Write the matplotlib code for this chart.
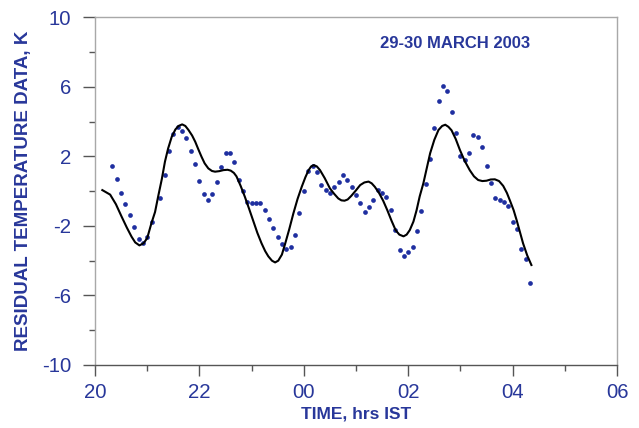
import numpy as np
import matplotlib
matplotlib.use("Agg")
import matplotlib.pyplot as plt
from matplotlib.ticker import MultipleLocator, FixedLocator

# observed residual temperature, one sample every 5 min from 20:20 IST
obs_start = 20 + 20 / 60
obs_step = 5 / 60
obs_values = [
    1.46, 0.70, -0.13, -0.72, -1.38, -2.08, -2.74, -3.00, -2.62, -1.80,
    np.nan, -0.41, 0.94, 2.32, 3.30, 3.70, 3.46, 3.04, 2.32, 1.54,
    0.60, -0.18, -0.51, -0.18, 0.54, 1.37, 2.17, 2.21, 1.67, 0.64,
    0.02, -0.65, -0.70, -0.70, -0.67, -1.09, -1.62, -2.14, -2.66, -3.03,
    -3.35, -3.23, -2.51, -1.24, 0.00, 1.14, 1.44, 1.10, 0.33, 0.05,
    -0.11, 0.24, 0.54, 0.94, 0.64, 0.25, -0.24, -0.70, -1.20, -0.93,
    -0.51, 0.06, -0.13, -0.32, -1.10, -2.24, -3.37, -3.72, -3.50, -3.20,
    -2.28, -1.16, 0.41, 1.83, 3.61, 5.18, 6.05, 5.78, 4.55, 3.36,
    2.02, 1.79, 2.21, 3.21, 3.11, 2.54, 1.44, 0.49, -0.40, -0.51,
    -0.63, -0.84, -1.80, -2.20, -3.33, -3.93, -5.27,
]

# fitted curve (hours, K)
fit_t = [20.14, 20.29, 20.40, 20.51, 20.61, 20.70, 20.77, 20.85, 20.93, 21.00,
         21.08, 21.15, 21.21, 21.28, 21.34, 21.40, 21.47, 21.54, 21.60, 21.67,
         21.73, 21.79, 21.86, 21.92, 21.98, 22.04, 22.10, 22.17, 22.24, 22.30,
         22.38, 22.46, 22.54, 22.60, 22.66, 22.71, 22.79, 22.87, 22.95, 23.03,
         23.11, 23.19, 23.26, 23.32, 23.39, 23.45, 23.51, 23.58, 23.64, 23.72,
         23.80, 23.88, 23.96, 24.03, 24.09, 24.14, 24.19, 24.25, 24.31, 24.40,
         24.50, 24.58, 24.66, 24.72, 24.78, 24.84, 24.91, 25.00, 25.08, 25.16,
         25.24, 25.30, 25.36, 25.44, 25.52, 25.60, 25.68, 25.76, 25.83, 25.91,
         25.97, 26.03, 26.10, 26.16, 26.22, 26.29, 26.35, 26.42, 26.50, 26.58,
         26.65, 26.71, 26.77, 26.83, 26.91, 26.99, 27.08, 27.18, 27.26, 27.34,
         27.42, 27.50, 27.58, 27.66, 27.74, 27.82, 27.89, 27.95, 28.02, 28.08,
         28.14, 28.20, 28.28, 28.36]
fit_y = [0.06, -0.20, -0.75, -1.47, -2.10, -2.62, -2.95, -3.12, -3.00, -2.70,
         -1.85, -1.20, -0.30, 0.70, 1.70, 2.45, 3.13, 3.55, 3.75, 3.84,
         3.75, 3.52, 3.20, 2.84, 2.40, 1.98, 1.60, 1.31, 1.16, 1.12,
         1.15, 1.21, 1.23, 1.18, 1.05, 0.85, 0.30, -0.32, -1.00, -1.70,
         -2.40, -3.00, -3.45, -3.75, -4.00, -4.10, -4.00, -3.65, -3.05, -2.20,
         -1.28, -0.45, 0.25, 0.80, 1.20, 1.42, 1.50, 1.42, 1.21, 0.75,
         0.16, -0.15, -0.42, -0.53, -0.55, -0.48, -0.27, 0.05, 0.35, 0.50,
         0.55, 0.45, 0.25, -0.10, -0.55, -1.10, -1.70, -2.25, -2.50, -2.60,
         -2.50, -2.24, -1.75, -1.10, -0.30, 0.45, 1.25, 2.18, 2.95, 3.52,
         3.75, 3.82, 3.70, 3.50, 3.00, 2.37, 1.75, 1.20, 0.85, 0.64,
         0.58, 0.60, 0.67, 0.68, 0.58, 0.30, -0.10, -0.55, -1.10, -1.70,
         -2.35, -3.00, -3.70, -4.25]

x_ticks = [20, 22, 24, 26, 28, 30]
x_tick_labels = ["20", "22", "00", "02", "04", "06"]
y_ticks = [-10, -6, -2, 2, 6, 10]

BLUE = "#28379a"
DOT = "#1f2fa0"
plt.rcParams['font.family'] = ['Liberation Sans', 'DejaVu Sans']
plt.rcParams['axes.unicode_minus'] = False

fig = plt.figure(figsize=(6.39, 4.28), dpi=100)
ax = fig.add_axes([0.1487, 0.1472, 0.8169, 0.8124])

obs_t = obs_start + obs_step * np.arange(len(obs_values))
ax.plot(obs_t, obs_values, linestyle='none', marker='o', ms=3.4, mew=0, color=DOT)
ax.plot(fit_t, fit_y, color='black', lw=1.5)

ax.set_xlim(20, 30)
ax.set_ylim(-10, 10)
ax.xaxis.set_major_locator(FixedLocator(x_ticks))
ax.set_xticklabels(x_tick_labels)
ax.xaxis.set_minor_locator(MultipleLocator(1))
ax.yaxis.set_major_locator(FixedLocator(y_ticks))
ax.yaxis.set_minor_locator(FixedLocator([-8, -4, 0, 4, 8]))

ax.tick_params(which='major', direction='out', length=8, width=1, color='#555555',
               labelsize=14.7, labelcolor=BLUE, pad=5)
ax.tick_params(which='minor', direction='out', length=4, width=1, color='#555555')
ax.tick_params(axis='y', which='major', length=9, pad=8)

for side in ['top', 'right', 'left']:
    ax.spines[side].set_color('#a8a8a8')
ax.spines['bottom'].set_color('#555555')
for s in ax.spines.values():
    s.set_linewidth(1)

ax.set_xlabel("TIME, hrs IST", fontsize=12.5, fontweight='bold', color=BLUE, labelpad=3)
ax.set_ylabel("RESIDUAL TEMPERATURE DATA, K", fontsize=13.5, fontweight='bold', color=BLUE,
              labelpad=7)
ax.text(0.69, 0.925, "29-30 MARCH 2003", transform=ax.transAxes, ha='center', va='center',
        fontsize=12, fontweight='bold', color=BLUE)

fig.savefig("out.png", dpi=100)
